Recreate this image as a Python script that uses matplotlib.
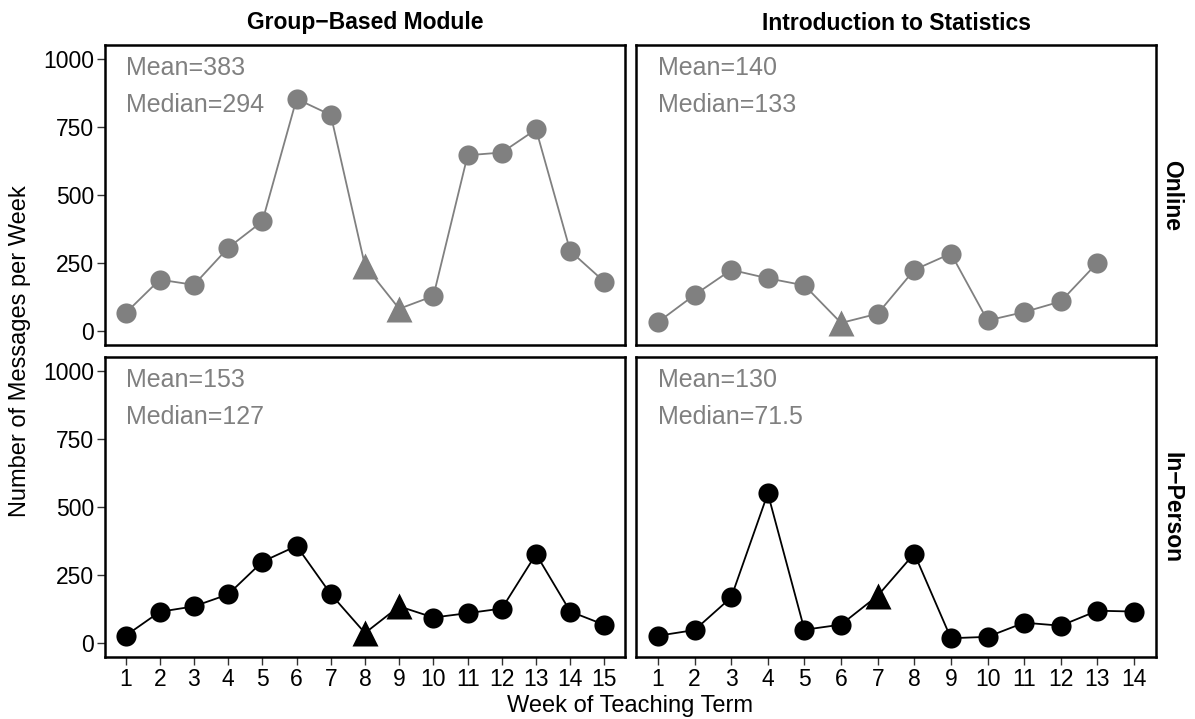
import matplotlib
matplotlib.use("Agg")
import matplotlib.pyplot as plt
import numpy as np

plt.rcParams['font.family'] = ['Liberation Sans', 'DejaVu Sans']

# weekly message counts
gb_weeks = list(range(1, 16))
gb_online = [66, 189, 170, 306, 403, 853, 794, 240, 82, 129, 646, 656, 741, 294, 181]
gb_inperson = [27, 115, 135, 179, 299, 357, 180, 37, 135, 94, 110, 127, 327, 116, 67]
gb_triangles = [8, 9]

st_weeks_online = list(range(1, 14))
st_online = [33, 133, 225, 194, 168, 30, 64, 225, 285, 39, 70, 109, 251]
st_weeks_inperson = list(range(1, 15))
st_inperson = [27, 48, 168, 550, 49, 68, 174, 329, 18, 23, 75, 64, 119, 116]
st_tri_online = [6]
st_tri_inperson = [7]

col_titles = ["Group\u2212Based Module", "Introduction to Statistics"]
row_titles = ["Online", "In\u2212Person"]
means = [["Mean=383", "Mean=140"], ["Mean=153", "Mean=130"]]
medians = [["Median=294", "Median=133"], ["Median=127", "Median=71.5"]]

panels = [[(gb_weeks, gb_online, gb_triangles, 15), (st_weeks_online, st_online, st_tri_online, 14)],
          [(gb_weeks, gb_inperson, gb_triangles, 15), (st_weeks_inperson, st_inperson, st_tri_inperson, 14)]]
colors = ["#808080", "black"]

W, H = 1195, 719
fig = plt.figure(figsize=(W / 100, H / 100), dpi=100)

lefts = [105, 636]
tops = [45, 357]
pw, ph = 520, 300

for r in range(2):
    for c in range(2):
        ax = fig.add_axes([lefts[c] / W, 1 - (tops[r] + ph) / H, pw / W, ph / H])
        weeks, vals, tri, n = panels[r][c]
        col = colors[r]
        ax.plot(weeks, vals, color=col, lw=1.3, zorder=2)
        circ = [(w, v) for w, v in zip(weeks, vals) if w not in tri]
        trs = [(w, v) for w, v in zip(weeks, vals) if w in tri]
        ax.plot([p[0] for p in circ], [p[1] for p in circ], 'o', color=col, ms=14.5, mec='none', zorder=3)
        ax.plot([p[0] for p in trs], [p[1] for p in trs], '^', color=col, ms=19, mec='none', zorder=3)
        ax.set_xlim(0.4, n + 0.6)
        ax.set_ylim(-51, 1051)
        ax.set_yticks([0, 250, 500, 750, 1000])
        if c == 0:
            ax.set_yticklabels(['0', '250', '500', '750', '1000'])
        else:
            ax.tick_params(axis='y', left=False, labelleft=False)
        ax.set_xticks(range(1, n + 1))
        if r == 1:
            ax.set_xticklabels([str(i) for i in range(1, n + 1)])
        else:
            ax.tick_params(axis='x', bottom=False, labelbottom=False)
        ax.tick_params(axis='both', direction='out', length=6, width=1, color='#333333', labelsize=16.5, pad=2)
        for s in ax.spines.values():
            s.set_linewidth(1.8)
        ax.text(1, 966, means[r][c], color='#808080', fontsize=18, va='center', ha='left')
        ax.text(1, 830, medians[r][c], color='#808080', fontsize=18, va='center', ha='left')
        if c == 1:
            ax.text(1.03, 0.5, row_titles[r], transform=ax.transAxes, rotation=-90,
                    fontsize=16.5, fontweight='bold', va='center', ha='center')

for c in range(2):
    fig.text((lefts[c] + pw / 2) / W, 1 - 23 / H, col_titles[c], fontsize=16.5,
             fontweight='bold', va='center', ha='center')

fig.text(20 / W, 1 - 351 / H, "Number of Messages per Week", rotation=90, fontsize=17,
         va='center', ha='center')
fig.text(630 / W, 1 - 706 / H, "Week of Teaching Term", fontsize=17, va='center', ha='center')

fig.savefig("out.png", dpi=100)
